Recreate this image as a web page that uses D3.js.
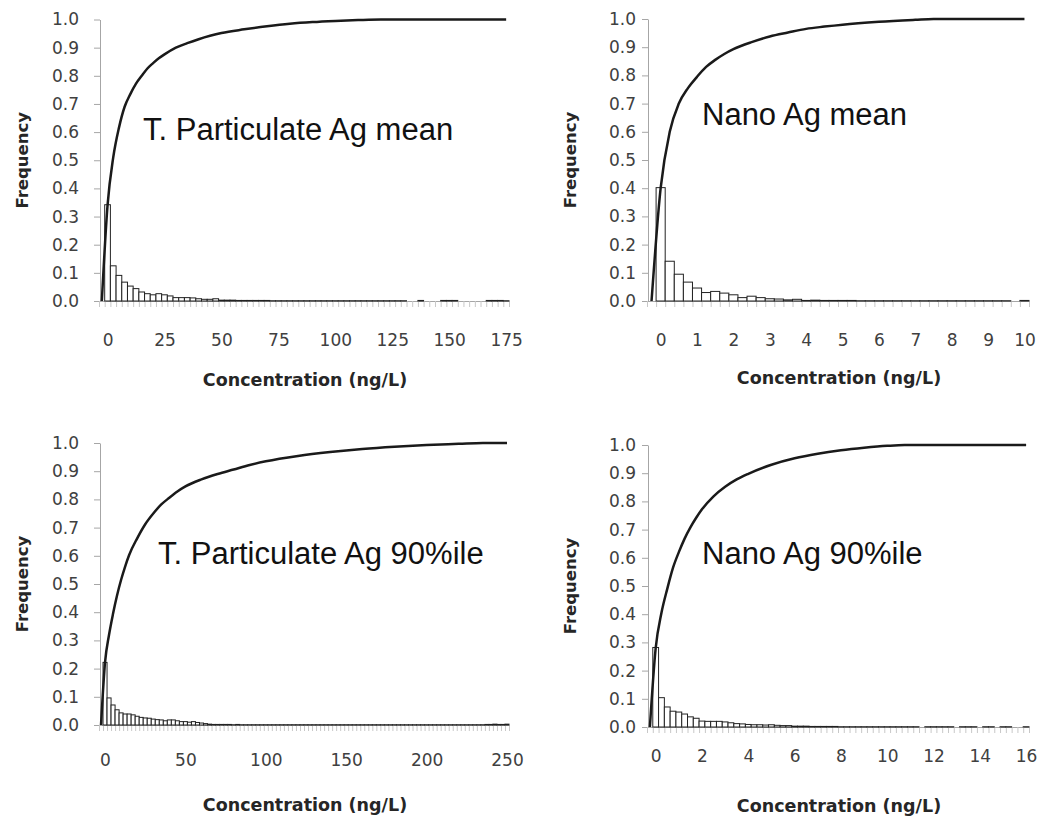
<!DOCTYPE html>
<html>
<head>
<meta charset="utf-8">
<script src="https://cdn.jsdelivr.net/npm/d3@7/dist/d3.min.js"></script>
<style>
  body { margin: 0; background: #fff; }
  svg { display: block; }
</style>
</head>
<body>
<div id="chart"></div>
<script>
// panel titles, bin widths and axis tick labels
const titles = ["T. Particulate Ag mean", "Nano Ag mean", "T. Particulate Ag 90%ile", "Nano Ag 90%ile"];
const binWidths = [2.5, 0.25, 2.5, 0.25];
const xTicks1 = [0, 25, 50, 75, 100, 125, 150, 175];
const xTicks2 = [0, 1, 2, 3, 4, 5, 6, 7, 8, 9, 10];
const xTicks3 = [0, 50, 100, 150, 200, 250];
const xTicks4 = [0, 2, 4, 6, 8, 10, 12, 14, 16];
const yTicks = [0, 0.1, 0.2, 0.3, 0.4, 0.5, 0.6, 0.7, 0.8, 0.9, 1.0];

// histogram frequencies, one value per bin starting at 0
const freq1 = [
  0.342, 0.125, 0.091, 0.067, 0.053, 0.044, 0.032, 0.026, 0.022, 0.026,
  0.022, 0.018, 0.012, 0.012, 0.012, 0.011, 0.008, 0.006, 0.006, 0.008,
  0.003, 0.003, 0.003, 0.002, 0.002, 0.002, 0.002, 0.002, 0.002, 0.001,
  0.001, 0.001, 0.001, 0.001, 0.001, 0.001, 0.001, 0.001, 0.001, 0.001,
  0.001, 0.001, 0.001, 0.001, 0.001, 0.001, 0.001, 0.001, 0.001, 0.001,
  0.001, 0.001, 0.001, 0, 0, 0.002, 0, 0, 0, 0.002,
  0.002, 0.002, 0, 0, 0, 0, 0, 0.002, 0.002, 0.002,
  0.001
];
const freq2 = [
  0.402, 0.141, 0.095, 0.067, 0.046, 0.030, 0.034, 0.028, 0.022, 0.012,
  0.017, 0.012, 0.008, 0.007, 0.004, 0.006, 0.002, 0.003, 0.002, 0.002,
  0.002, 0.002, 0.001, 0.001, 0.001, 0.001, 0.001, 0.001, 0.001, 0.001,
  0.001, 0.001, 0.001, 0.001, 0.001, 0.001, 0.001, 0.001, 0.001, 0,
  0.002
];
const freq3 = [
  0.222, 0.096, 0.071, 0.054, 0.043, 0.039, 0.039, 0.036, 0.031, 0.027,
  0.025, 0.024, 0.021, 0.019, 0.018, 0.015, 0.018, 0.018, 0.015, 0.012,
  0.012, 0.010, 0.012, 0.009, 0.007, 0.005, 0.003, 0.002, 0.002, 0.002,
  0.002, 0.002, 0.001, 0.002, 0.001, 0.001, 0.001, 0.001, 0.001, 0.001,
  0.001, 0.001, 0.001, 0.001, 0.001, 0.001, 0.001, 0.001, 0.001, 0.001,
  0.001, 0.001, 0.001, 0.001, 0.001, 0.001, 0.001, 0.001, 0.001, 0.001,
  0.001, 0.001, 0.001, 0.001, 0.001, 0.001, 0.001, 0.001, 0.001, 0.001,
  0.001, 0.001, 0.001, 0.001, 0.001, 0.001, 0.001, 0.001, 0.001, 0.001,
  0.001, 0.001, 0.001, 0.001, 0.001, 0.001, 0.001, 0.001, 0.001, 0.001,
  0.001, 0.001, 0.001, 0.001, 0.001, 0.002, 0.002, 0.003, 0.002, 0.002,
  0.003
];
const freq4 = [
  0.282, 0.104, 0.071, 0.056, 0.053, 0.046, 0.036, 0.031, 0.021, 0.020,
  0.020, 0.020, 0.018, 0.015, 0.012, 0.011, 0.009, 0.008, 0.008, 0.007,
  0.008, 0.006, 0.005, 0.005, 0.003, 0.003, 0.003, 0.002, 0.002, 0.002,
  0.002, 0.002, 0.001, 0.001, 0.001, 0.001, 0.001, 0.001, 0.001, 0.001,
  0.001, 0.001, 0.001, 0.001, 0.001, 0.001, 0, 0.001, 0.001, 0.001,
  0.001, 0.001, 0, 0.001, 0.001, 0.001, 0, 0.001, 0.001, 0,
  0.001, 0.001, 0, 0, 0.001
];

// cumulative frequency curve, [concentration, cumulative]
const cdf1 = [
  [-2.5, 0], [0, 0.34], [2.5, 0.51], [5, 0.615], [7.5, 0.69], [10, 0.735],
  [12.5, 0.772], [15, 0.8], [17.5, 0.826], [20, 0.845], [22.5, 0.862], [25, 0.876],
  [30, 0.9], [35, 0.916], [40, 0.93], [45, 0.942], [50, 0.952], [60, 0.965],
  [70, 0.976], [80, 0.985], [90, 0.991], [100, 0.995], [110, 0.998], [120, 1.0], [175, 1.0]
];
const cdf2 = [
  [-0.25, 0], [0, 0.40], [0.25, 0.6], [0.5, 0.7], [0.75, 0.755], [1, 0.795],
  [1.25, 0.83], [1.5, 0.855], [1.75, 0.876], [2, 0.893], [2.5, 0.918], [3, 0.938],
  [3.5, 0.952], [4, 0.965], [4.5, 0.973], [5, 0.98], [6, 0.99], [7, 0.997], [7.5, 1.0], [10, 1.0]
];
const cdf3 = [
  [-2.5, 0], [0, 0.222], [2.5, 0.32], [5, 0.395], [7.5, 0.46], [10, 0.515],
  [12.5, 0.562], [15, 0.603], [20, 0.662], [25, 0.712], [30, 0.75], [35, 0.782],
  [40, 0.806], [45, 0.828], [50, 0.846], [60, 0.871], [70, 0.89], [80, 0.906],
  [90, 0.922], [100, 0.935], [120, 0.954], [140, 0.968], [160, 0.979], [180, 0.987],
  [200, 0.993], [220, 0.997], [235, 1.0], [250, 1.0]
];
const cdf4 = [
  [-0.25, 0], [0, 0.28], [0.25, 0.405], [0.5, 0.49], [0.75, 0.565], [1, 0.62],
  [1.25, 0.668], [1.5, 0.708], [1.75, 0.742], [2, 0.772], [2.5, 0.818], [3, 0.852],
  [3.5, 0.878], [4, 0.898], [5, 0.93], [6, 0.953], [7, 0.969], [8, 0.981],
  [9, 0.99], [10, 0.997], [10.75, 1.0], [16, 1.0]
];

// layout of each panel (pixels)
const panels = [
  { title: titles[0], w: binWidths[0], freq: freq1, cdf: cdf1, xTicks: xTicks1,
    left: 100, right: 510, top: 19.5, bottom: 301, pad: 15, titleX: 143, titleY: 140, xLabelY: 339.5, xTitleY: 380 },
  { title: titles[1], w: binWidths[1], freq: freq2, cdf: cdf2, xTicks: xTicks2,
    left: 648, right: 1030, top: 19, bottom: 301, pad: 6, titleX: 702, titleY: 125, xLabelY: 339.5, xTitleY: 378 },
  { title: titles[2], w: binWidths[2], freq: freq3, cdf: cdf3, xTicks: xTicks3,
    left: 100, right: 510, top: 443, bottom: 725, pad: 15, titleX: 158, titleY: 564, xLabelY: 760, xTitleY: 805 },
  { title: titles[3], w: binWidths[3], freq: freq4, cdf: cdf4, xTicks: xTicks4,
    left: 648, right: 1030, top: 445, bottom: 727, pad: 6, titleX: 702, titleY: 564, xLabelY: 755.5, xTitleY: 806 },
];

const svg = d3.select("#chart")
  .append("svg")
  .attr("width", 1043)
  .attr("height", 823);

const tickFont = "DejaVu Sans";
const axisGrey = "#a6a6a6";

panels.forEach((p) => {
  const g = svg.append("g");
  const maxX = p.xTicks[p.xTicks.length - 1];

  // category axis: one slot per bin, plus an empty slot before 0
  const x = d3.scaleLinear()
    .domain([-1.5 * p.w, maxX + 0.5 * p.w])
    .range([p.left - 1, p.right - 1]);
  const y = d3.scaleLinear()
    .domain([0, 1])
    .range([p.bottom, p.top]);

  // y axis
  const yAxis = g.append("g")
    .attr("transform", `translate(${p.left},0)`)
    .call(d3.axisLeft(y).tickValues(yTicks).tickSize(6).tickSizeOuter(0)
      .tickPadding(p.pad).tickFormat(d3.format(".1f")));
  yAxis.selectAll("path, line").attr("stroke", axisGrey);
  yAxis.selectAll("text")
    .attr("font-family", tickFont)
    .attr("font-size", 17)
    .attr("fill", "#404040");

  // x baseline and small category ticks
  const bounds = d3.range(p.freq.length + 2).map((k) => (k - 1.5) * p.w);
  const catAxis = g.append("g")
    .attr("transform", `translate(0,${p.bottom})`)
    .call(d3.axisBottom(x).tickValues(bounds).tickSize(6).tickSizeOuter(0).tickFormat(""));
  catAxis.selectAll("line").attr("stroke", "#c8c8c8");
  catAxis.select(".domain").attr("stroke", axisGrey);

  // x tick labels
  const xAxis = g.append("g")
    .attr("transform", `translate(0,${p.bottom})`)
    .call(d3.axisBottom(x).tickValues(p.xTicks).tickSize(0)
      .tickPadding(p.xLabelY - p.bottom - 6));
  xAxis.select(".domain").remove();
  xAxis.selectAll("text")
    .attr("font-family", tickFont)
    .attr("font-size", 17)
    .attr("fill", "#404040");

  // histogram bars
  const bins = p.freq.map((f, i) => ({ v: i * p.w, f: f })).filter((d) => d.f > 0);
  g.append("g")
    .selectAll("rect")
    .data(bins)
    .enter()
    .append("rect")
    .attr("x", (d) => x(d.v - p.w / 2))
    .attr("width", x(p.w) - x(0))
    .attr("y", (d) => y(d.f))
    .attr("height", (d) => y(0) - y(d.f))
    .attr("fill", "#fff")
    .attr("stroke", "#222")
    .attr("stroke-width", 1);

  // cumulative curve
  const line = d3.line()
    .x((d) => x(d[0]))
    .y((d) => y(d[1]))
    .curve(d3.curveMonotoneX);
  g.append("path")
    .datum(p.cdf)
    .attr("d", line)
    .attr("fill", "none")
    .attr("stroke", "#1a1a1a")
    .attr("stroke-width", 2.5);

  // titles
  g.append("text")
    .attr("x", p.titleX)
    .attr("y", p.titleY)
    .attr("font-family", "Liberation Sans, Arial, sans-serif")
    .attr("font-size", 31)
    .attr("fill", "#111")
    .text(p.title);

  g.append("text")
    .attr("transform", `translate(${p.left - 78},${(p.top + p.bottom) / 2}) rotate(-90)`)
    .attr("text-anchor", "middle")
    .attr("dominant-baseline", "central")
    .attr("font-family", tickFont)
    .attr("font-weight", "bold")
    .attr("font-size", 16.5)
    .attr("fill", "#262626")
    .text("Frequency");

  g.append("text")
    .attr("x", (p.left + p.right) / 2)
    .attr("y", p.xTitleY)
    .attr("text-anchor", "middle")
    .attr("dominant-baseline", "central")
    .attr("font-family", tickFont)
    .attr("font-weight", "bold")
    .attr("font-size", 17.5)
    .attr("fill", "#262626")
    .text("Concentration (ng/L)");
});
</script>
</body>
</html>
